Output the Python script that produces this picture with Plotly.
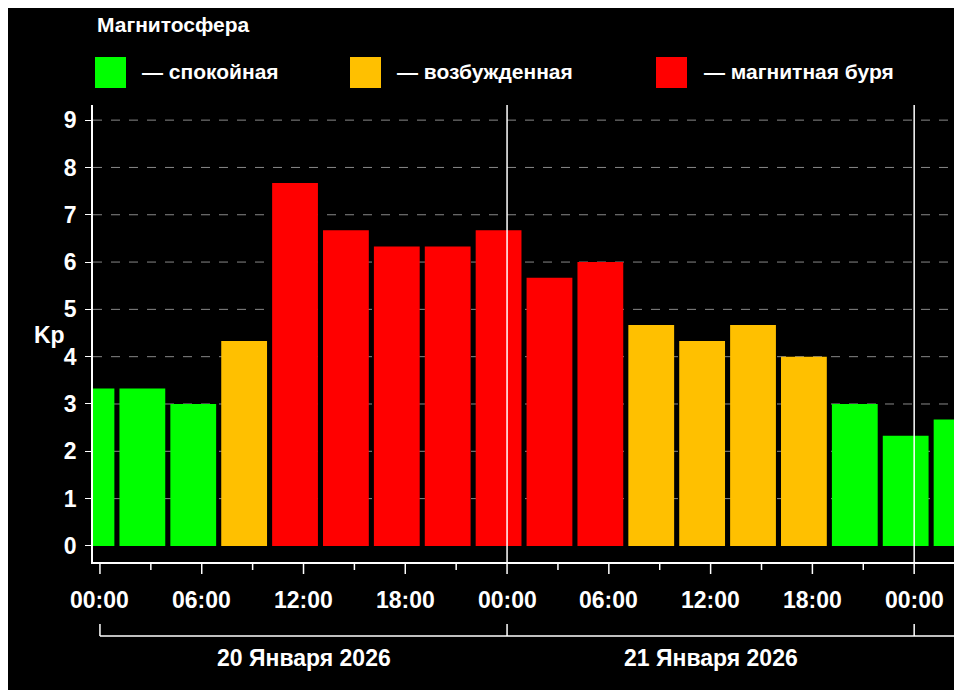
import plotly.graph_objects as go

hours = [-0.5, 2.5, 5.5, 8.5, 11.5, 14.5, 17.5, 20.5, 23.5, 26.5, 29.5, 32.5, 35.5, 38.5, 41.5, 44.5, 47.5, 50.5]
kp = [3.33, 3.33, 3.0, 4.33, 7.67, 6.67, 6.33, 6.33, 6.67, 5.67, 6.0, 4.67, 4.33, 4.67, 4.0, 3.0, 2.33, 2.67]
tick_vals = [0, 6, 12, 18, 24, 30, 36, 42, 48]
tick_text = ["00:00", "06:00", "12:00", "18:00", "00:00", "06:00", "12:00", "18:00", "00:00"]
dates = ["20 Января 2026", "21 Января 2026"]
legend_labels = ["— спокойная", "— возбужденная", "— магнитная буря"]

GREEN, YELLOW, RED = "#00ff00", "#ffc000", "#ff0000"
def col(v):
    return GREEN if v < 3.5 else (YELLOW if v < 5 else RED)

OFF = 8  # page body margin
L, R, T, B = 93, 962, 105, 562
def px(x): return (x - L) / (R - L)
def py(y): return (B - y) / (B - T)

FONT = "Liberation Sans, Arial, sans-serif"
fig = go.Figure(go.Bar(x=hours, y=kp, width=2.7, marker=dict(color=[col(v) for v in kp], line_width=0)))

shapes = []
for v in range(1, 10):
    shapes.append(dict(type="line", xref="paper", yref="y", x0=0, x1=1, y0=v, y1=v,
                       line=dict(color="#888", width=1, dash="dash"), layer="below"))
for d in [24, 48]:
    shapes.append(dict(type="line", xref="x", yref="paper", x0=d, x1=d, y0=0, y1=1, line=dict(color="white", width=1.5)))
for h in range(0, 51, 3):
    ln = 12 if h % 6 == 0 else 8
    shapes.append(dict(type="line", xref="x", yref="paper", x0=h, x1=h, y0=0, y1=-ln/457, line=dict(color="white", width=1.5)))
shapes.append(dict(type="line", xref="x", yref="paper", x0=0, x1=51, y0=py(636), y1=py(636), line=dict(color="white", width=1.5)))
for d in [0, 24, 48]:
    shapes.append(dict(type="line", xref="x", yref="paper", x0=d, x1=d, y0=py(636), y1=py(624), line=dict(color="white", width=1.5)))
for x0, c in [(95, GREEN), (350, YELLOW), (656, RED)]:
    shapes.append(dict(type="rect", xref="paper", yref="paper", x0=px(x0), x1=px(x0+31), y0=py(88), y1=py(57),
                       fillcolor=c, line_width=0))

def a(**k):
    k.setdefault("yanchor", "middle")
    k.setdefault("showarrow", False)
    return k

ann = []
for i, t in enumerate(tick_text):
    ann.append(a(x=tick_vals[i], y=py(600), xref="x", yref="paper", text="<b>%s</b>" % t,
                 font=dict(size=23, color="white", family=FONT)))
for i, d in enumerate(dates):
    ann.append(a(x=12 + 24*i, y=py(658), xref="x", yref="paper", text="<b>%s</b>" % d,
                 font=dict(size=23, color="white", family=FONT)))
ann.append(a(x=px(95), y=py(25), xref="paper", yref="paper", text="<b>Магнитосфера</b>",
             xanchor="left", font=dict(size=21, color="white", family=FONT)))
for x0, t in [(140, legend_labels[0]), (395, legend_labels[1]), (702, legend_labels[2])]:
    ann.append(a(x=px(x0), y=py(72), xref="paper", yref="paper", text="<b>%s</b>" % t,
                 xanchor="left", font=dict(size=21, color="white", family=FONT)))
ann.append(a(x=px(32), y=py(335), xref="paper", yref="paper", text="<b>Kp</b>",
             font=dict(size=23, color="white", family=FONT)))

fig.update_layout(
    width=962 - OFF, height=690 - OFF, margin=dict(l=L - OFF, r=0, t=T - OFF, b=690 - B, pad=0),
    paper_bgcolor="black", plot_bgcolor="black", showlegend=False,
    shapes=shapes, annotations=ann,
    font=dict(family=FONT, color="white"),
    xaxis=dict(range=[-0.41, 50.82], showticklabels=False, showgrid=False, zeroline=False,
               showline=True, linecolor="white", linewidth=1.5),
    yaxis=dict(range=[-0.34, 9.32], tickvals=list(range(10)), showgrid=False, zeroline=False,
               showline=True, linecolor="white", linewidth=1.5, ticks="outside", ticklen=6, tickcolor="white",
               tickfont=dict(size=23, color="white", family=FONT, weight="bold"), ticklabelstandoff=4),
)
fig.write_html("out.html")
